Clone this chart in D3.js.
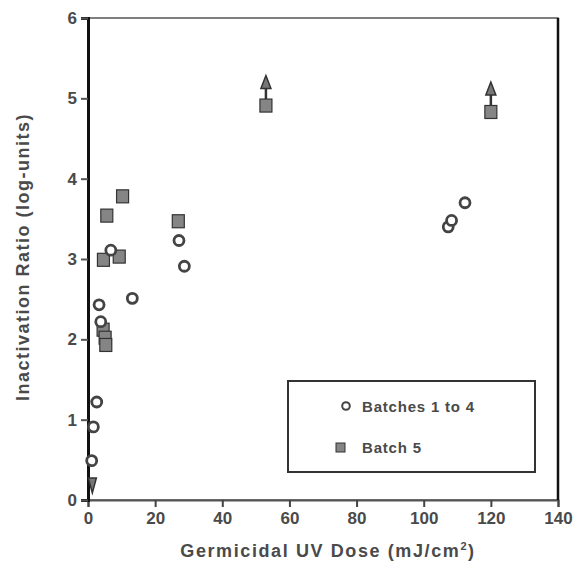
<!DOCTYPE html>
<html>
<head>
<meta charset="utf-8">
<script src="https://cdn.jsdelivr.net/npm/d3@7"></script>
<style>
  body { margin: 0; background: #fff; }
  text { font-family: "Liberation Sans", Arial, sans-serif; font-weight: bold; fill: #4a4a4a; }
</style>
</head>
<body>
<svg id="chart" width="573" height="565"></svg>
<script>
// Batches 1 to 4 (open circles)
const circleDose = [1.1, 1.6, 2.6, 3.3, 3.8, 6.8, 13.2, 27.1, 28.7, 107.3, 108.3, 112.3];
const circleLog  = [0.49, 0.91, 1.22, 2.43, 2.22, 3.11, 2.51, 3.23, 2.91, 3.40, 3.48, 3.70];

// Batch 5 (filled squares); censored = value is a lower bound (arrow up)
const squareDose = [4.5, 5.1, 5.3, 4.6, 9.3, 5.6, 10.3, 26.9, 53.0, 120.0];
const squareLog  = [2.12, 2.02, 1.93, 2.99, 3.03, 3.54, 3.78, 3.47, 4.91, 4.83];
const squareCensored = [false, false, false, false, false, false, false, false, true, true];

// point below detection limit (arrow down)
const belowDose = [1.3];
const belowLog  = [0.2];

const xTicks = [0, 20, 40, 60, 80, 100, 120, 140];
const yTicks = [0, 1, 2, 3, 4, 5, 6];

const margin = {top: 18, right: 15, bottom: 65, left: 88};
const width = 573 - margin.left - margin.right;
const height = 565 - margin.top - margin.bottom;

const svg = d3.select("#chart");
const g = svg.append("g").attr("transform", `translate(${margin.left},${margin.top})`);

const x = d3.scaleLinear().domain([0, 140]).range([0, width]);
const y = d3.scaleLinear().domain([0, 6]).range([height, 0]);

// frame
g.append("rect")
    .attr("width", width).attr("height", height)
    .attr("fill", "none").attr("stroke", "#555").attr("stroke-width", 1.5);

// axes
const xAxis = g.append("g")
    .attr("transform", `translate(0,${height})`)
    .call(d3.axisBottom(x).tickValues(xTicks).tickFormat(d3.format("d")).tickSize(7).tickPadding(5));
xAxis.select(".domain").attr("stroke", "#555").attr("stroke-width", 2);
xAxis.selectAll(".tick line").attr("stroke", "#444").attr("stroke-width", 2);
xAxis.selectAll("text").style("font-size", "17px").attr("fill", "#4a4a4a");

const yAxis = g.append("g")
    .call(d3.axisLeft(y).tickValues(yTicks).tickFormat(d3.format("d")).tickSize(7).tickPadding(4));
yAxis.select(".domain").attr("stroke", "#111").attr("stroke-width", 3);
yAxis.selectAll(".tick line").attr("stroke", "#555").attr("stroke-width", 2);
yAxis.selectAll("text").style("font-size", "17px").attr("fill", "#4a4a4a");

// right border darker, like the scan
g.append("line")
    .attr("x1", width).attr("x2", width).attr("y1", 0).attr("y2", height)
    .attr("stroke", "#111").attr("stroke-width", 2.5);

// axis titles
const xTitle = svg.append("text")
    .attr("x", 328)
    .attr("y", 557)
    .attr("text-anchor", "middle")
    .style("font-size", "18px")
    .style("letter-spacing", "1.6px");
xTitle.append("tspan").text("Germicidal UV Dose (mJ/cm");
xTitle.append("tspan").attr("dy", -7).style("font-size", "11px").text("2");
xTitle.append("tspan").attr("dy", 7).text(")");

svg.append("text")
    .attr("transform", `translate(29,257) rotate(-90)`)
    .attr("text-anchor", "middle")
    .style("font-size", "18px")
    .style("letter-spacing", "1.5px")
    .text("Inactivation Ratio (log-units)");

// arrows for censored squares
const censored = squareDose.map((d, i) => [d, squareLog[i]]).filter((d, i) => squareCensored[i]);
censored.forEach(d => {
    const cx = x(d[0]), cy = y(d[1]);
    g.append("line")
        .attr("x1", cx).attr("x2", cx).attr("y1", cy - 6).attr("y2", cy - 18)
        .attr("stroke", "#333").attr("stroke-width", 2.5);
    g.append("path")
        .attr("d", `M${cx},${cy - 30}L${cx - 5},${cy - 17}L${cx + 5},${cy - 17}Z`)
        .attr("fill", "#777").attr("stroke", "#333").attr("stroke-width", 1.5);
});

// arrow down for below-limit point
belowDose.forEach((d, i) => {
    const cx = x(d), cy = y(belowLog[i]);
    g.append("path")
        .attr("d", `M${cx},${cy + 9}L${cx - 4},${cy - 6}L${cx + 4},${cy - 6}Z`)
        .attr("fill", "#777").attr("stroke", "#333").attr("stroke-width", 1.5);
});

// squares
g.selectAll(".sq")
    .data(squareDose.map((d, i) => [d, squareLog[i]]))
    .enter().append("rect")
    .attr("class", "sq")
    .attr("x", d => x(d[0]) - 6)
    .attr("y", d => y(d[1]) - 6.5)
    .attr("width", 12)
    .attr("height", 13)
    .attr("fill", "#858585")
    .attr("stroke", "#333")
    .attr("stroke-width", 1.2);

// circles
g.selectAll(".ci")
    .data(circleDose.map((d, i) => [d, circleLog[i]]))
    .enter().append("circle")
    .attr("class", "ci")
    .attr("cx", d => x(d[0]))
    .attr("cy", d => y(d[1]))
    .attr("r", 5)
    .attr("fill", "#fff")
    .attr("stroke", "#444")
    .attr("stroke-width", 2.8);

// legend (page coordinates)
const leg = svg.append("g");
leg.append("rect")
    .attr("x", 288).attr("y", 381)
    .attr("width", 247).attr("height", 91)
    .attr("fill", "#fff").attr("stroke", "#333").attr("stroke-width", 2);
leg.append("circle")
    .attr("cx", 346).attr("cy", 406)
    .attr("r", 3.8).attr("fill", "#fff").attr("stroke", "#444").attr("stroke-width", 2);
leg.append("text")
    .attr("x", 362).attr("y", 412)
    .style("font-size", "15px")
    .style("letter-spacing", "0.8px")
    .text("Batches 1 to 4");
leg.append("rect")
    .attr("x", 336).attr("y", 443)
    .attr("width", 9).attr("height", 9)
    .attr("fill", "#858585").attr("stroke", "#333").attr("stroke-width", 1);
leg.append("text")
    .attr("x", 362).attr("y", 453)
    .style("font-size", "15px")
    .style("letter-spacing", "0.8px")
    .text("Batch 5");
</script>
</body>
</html>
